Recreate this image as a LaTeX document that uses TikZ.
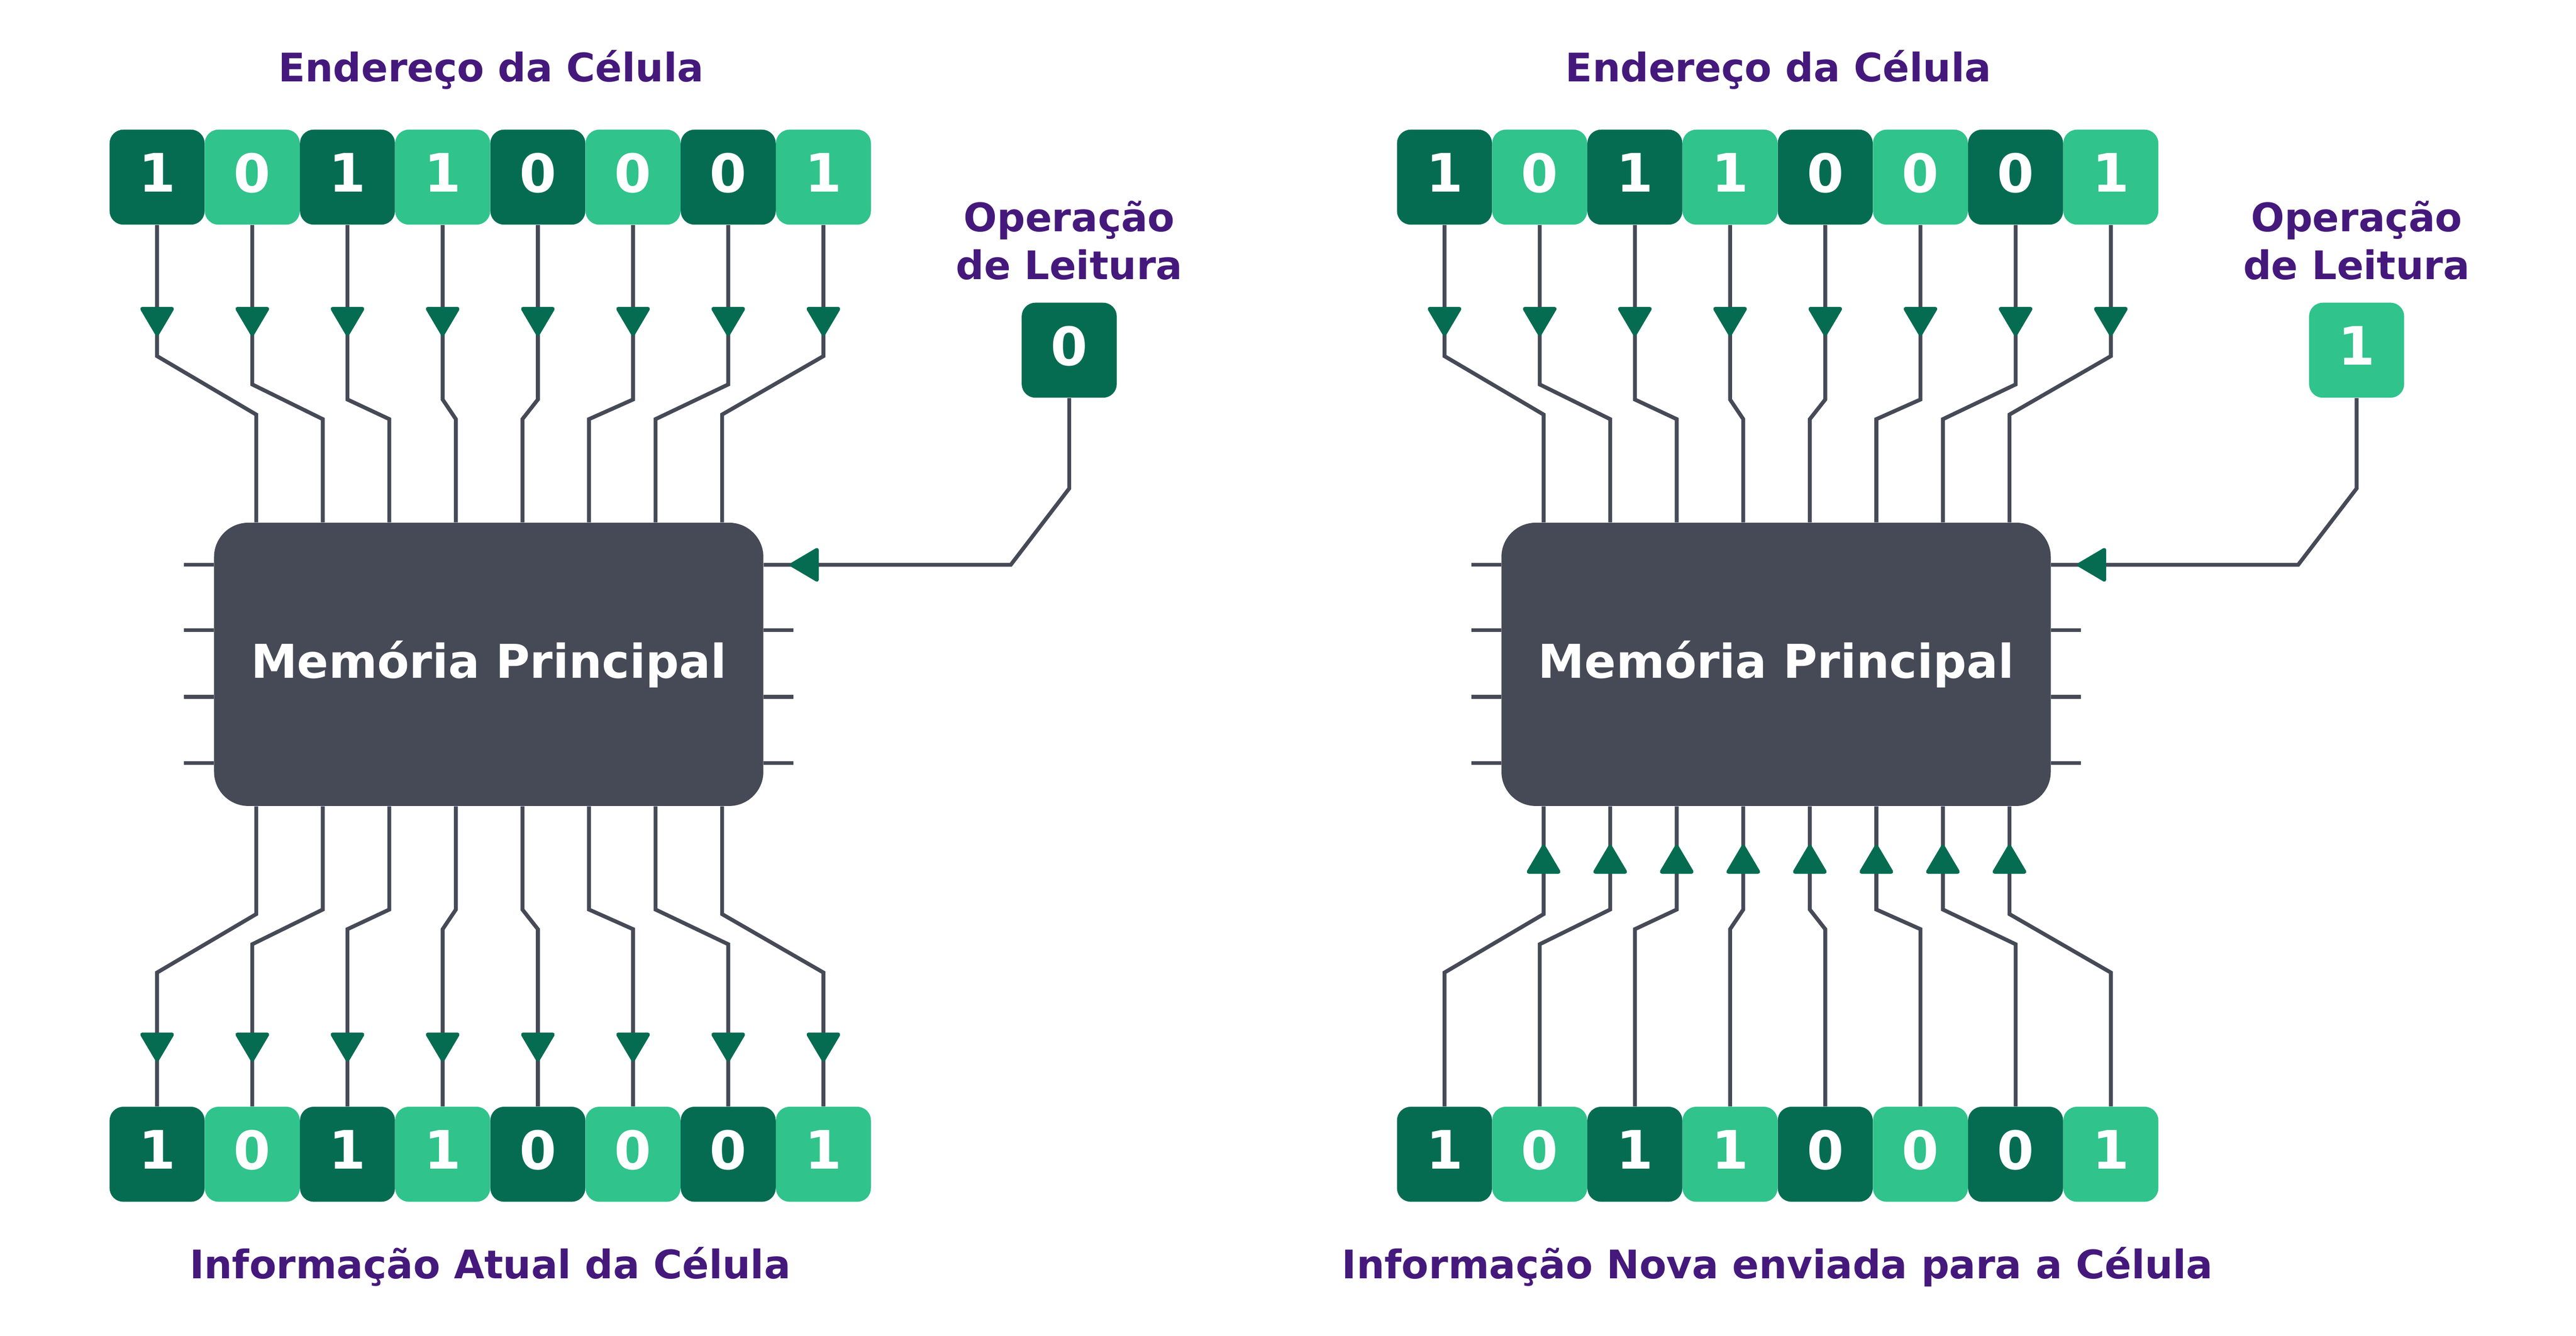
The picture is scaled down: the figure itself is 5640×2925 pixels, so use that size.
\documentclass[tikz,border=0pt]{standalone}
\usepackage{fontspec}
\setmainfont{DejaVu Sans}
\usetikzlibrary{arrows.meta,decorations.markings}
\definecolor{dgreen}{HTML}{056C52}
\definecolor{lgreen}{HTML}{30C38C}
\definecolor{chipgray}{HTML}{464A57}
\definecolor{titlepurple}{HTML}{45197C}
\tikzset{
  wire/.style={draw=chipgray, line width=0.085cm},
  tipat/.style={postaction={decorate}, decoration={markings,
      mark=at position #1 with {\arrow{Triangle[length=0.68cm, width=0.78cm, round, color=dgreen]}}}},
  bitbox/.style={fill=#1, minimum size=2.08cm, inner sep=0pt, rounded corners=0.3cm,
      text=white, text depth=0.2cm, font=\fontsize{33}{40}\selectfont\bfseries},
  chip/.style={fill=chipgray, minimum width=12.02cm, minimum height=6.2cm, rounded corners=0.75cm,
      inner sep=0pt, text=white, font=\fontsize{29}{35}\selectfont\bfseries},
  heading/.style={text=titlepurple, inner sep=0pt, align=center, font=\fontsize{24.5}{30}\selectfont\bfseries},
}
\begin{document}
\begin{tikzpicture}[x=0.01cm, y=-0.01cm]
    \useasboundingbox (0,0) rectangle (5640,2925);

    % Leitura (esquerda).
    \node[heading, anchor=base] (ta1) at (1075,179) {Endereço da Célula};
    \node[heading, anchor=base] (tb1) at (1073,2800) {Informação Atual da Célula};
    \node[heading, anchor=south] (to1) at (2341,614) {Operação\\de Leitura};
    \node[bitbox=dgreen] (op1) at (2341,767) {0};
    \node[chip] (mem1) at (1070,1455) {Memória Principal};
    \foreach \v/\c [count=\i] in {1/dgreen,0/lgreen,1/dgreen,1/lgreen,0/dgreen,0/lgreen,0/dgreen,1/lgreen}
    {
        \node[bitbox=\c] (ea\i) at ({344+208.4*(\i-1)},388) {\v};
        \node[bitbox=\c] (ia\i) at ({344+208.4*(\i-1)},2528) {\v};
    }
    \foreach \ya/\yb [count=\i] in {780/908,842/918,875/918,875/918,875/918,875/918,842/918,780/908}
    {
        \pgfmathsetmacro\p{561+145.7*(\i-1)}
        \pgfmathsetmacro\yc{2910-\yb}
        \pgfmathsetmacro\yd{2910-\ya}
        \draw[wire, tipat=2.43cm] (ea\i.south) -- (ea\i.south |- 0,\ya) -- (\p,\yb) -- (\p,\yb |- mem1.north);
        \draw[wire, tipat=-0.98cm] (mem1.south -| \p,0) -- (\p,\yc) -- (ia\i.north |- 0,\yd) -- (ia\i.north);
    }
    \foreach \y in {1237,1380,1526,1671}
        \draw[wire] (mem1.west |- 0,\y) -- ++(-65,0);
    \foreach \y in {1380,1526,1671}
        \draw[wire] (mem1.east |- 0,\y) -- ++(65,0);
    \draw[wire, tipat=-0.57cm] (op1.south) -- ++(0,198) -- (2213,1237) -- (mem1.east |- 0,1237);

    % Escrita (direita).
    \begin{scope}[xshift=28.17cm]
    \node[heading, anchor=base] (ta2) at (1075,179) {Endereço da Célula};
    \node[heading, anchor=base] (tb2) at (1073,2800) {Informação Nova enviada para a Célula};
    \node[heading, anchor=south] (to2) at (2341,614) {Operação\\de Leitura};
    \node[bitbox=lgreen] (op2) at (2341,767) {1};
    \node[chip] (mem2) at (1070,1455) {Memória Principal};
    \foreach \v/\c [count=\i] in {1/dgreen,0/lgreen,1/dgreen,1/lgreen,0/dgreen,0/lgreen,0/dgreen,1/lgreen}
    {
        \node[bitbox=\c] (eb\i) at ({344+208.4*(\i-1)},388) {\v};
        \node[bitbox=\c] (ib\i) at ({344+208.4*(\i-1)},2528) {\v};
    }
    \foreach \ya/\yb [count=\i] in {780/908,842/918,875/918,875/918,875/918,875/918,842/918,780/908}
    {
        \pgfmathsetmacro\p{561+145.7*(\i-1)}
        \pgfmathsetmacro\yc{2910-\yb}
        \pgfmathsetmacro\yd{2910-\ya}
        \draw[wire, tipat=2.43cm] (eb\i.south) -- (eb\i.south |- 0,\ya) -- (\p,\yb) -- (\p,\yb |- mem2.north);
        \draw[wire, tipat=-0.84cm] (ib\i.north) -- (ib\i.north |- 0,\yd) -- (\p,\yc) -- (mem2.south -| \p,0);
    }
    \foreach \y in {1237,1380,1526,1671}
        \draw[wire] (mem2.west |- 0,\y) -- ++(-65,0);
    \foreach \y in {1380,1526,1671}
        \draw[wire] (mem2.east |- 0,\y) -- ++(65,0);
    \draw[wire, tipat=-0.57cm] (op2.south) -- ++(0,198) -- (2213,1237) -- (mem2.east |- 0,1237);
    \end{scope}
\end{tikzpicture}
\end{document}
